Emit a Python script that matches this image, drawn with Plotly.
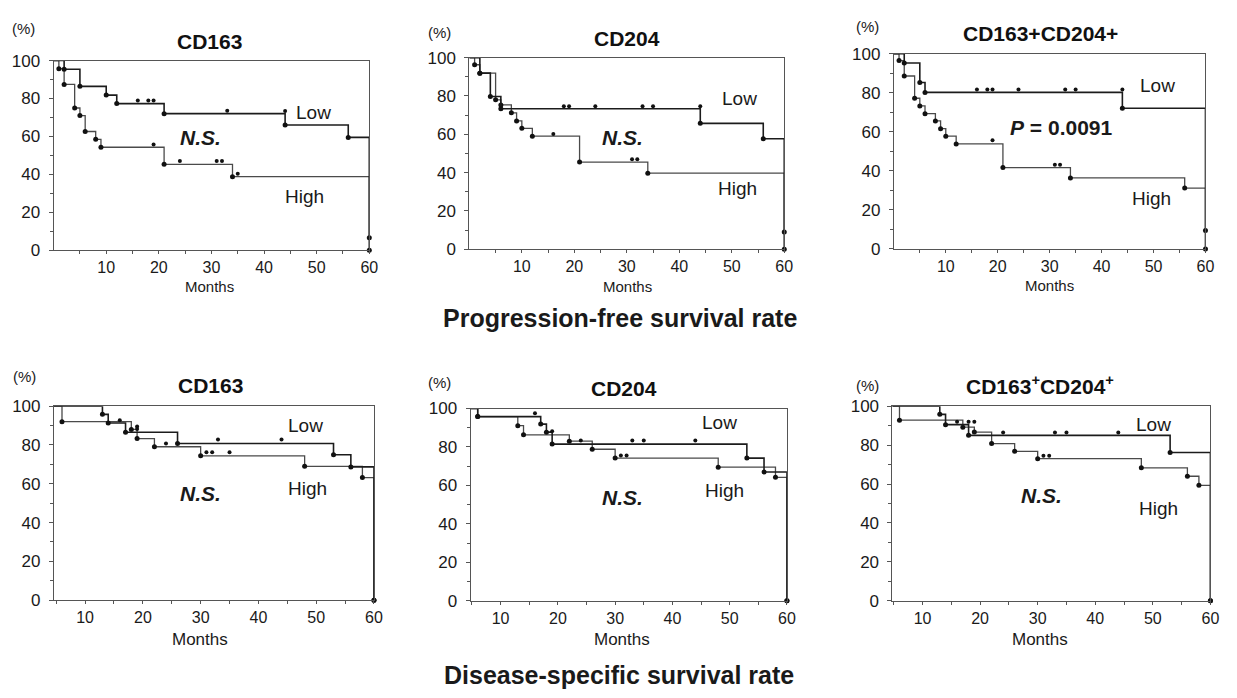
import plotly.graph_objects as go

W, H = 1237, 698
FONT = "Liberation Sans, Arial, sans-serif"

# ---------------- DATA ----------------
# Panel 1: PFS, CD163
p1_low_t = [2, 5, 10, 12, 21, 44, 56, 60]
p1_low_s = [95.4, 86.4, 81.8, 77.3, 72.0, 66.0, 59.5, 0]
p1_high_t = [1, 2, 4, 5, 6, 8, 9, 21, 34, 60]
p1_high_s = [95.7, 87.4, 75.0, 71.0, 62.6, 58.5, 54.3, 45.3, 38.8, 6.6]
p1_low_ct = [16, 18, 19, 33, 44]
p1_low_cs = [79.0, 79.0, 79.0, 73.5, 73.4]
p1_high_ct = [19, 24, 31, 32, 35]
p1_high_cs = [55.8, 47.0, 47.0, 47.0, 40.3]

# Panel 2: PFS, CD204
p2_low_t = [2, 4, 6, 44, 56, 60]
p2_low_s = [91.9, 79.7, 73.3, 65.7, 57.7, 0]
p2_high_t = [1, 2, 5, 6, 8, 9, 10, 12, 21, 34, 60]
p2_high_s = [96.3, 91.9, 78.0, 75.3, 71.2, 67.0, 63.1, 59.0, 45.5, 39.7, 9.0]
p2_low_ct = [18, 19, 24, 33, 35, 44]
p2_low_cs = [74.6, 74.6, 74.6, 74.6, 74.6, 74.6]
p2_high_ct = [16, 31, 32]
p2_high_cs = [60.2, 47.0, 47.0]

# Panel 3: PFS, CD163+CD204+
p3_low_t = [2, 5, 6, 44, 60]
p3_low_s = [95.3, 85.3, 80.2, 72.1, 0]
p3_high_t = [1, 2, 4, 5, 6, 8, 9, 10, 12, 21, 34, 56, 60]
p3_high_s = [96.5, 88.6, 77.2, 73.3, 69.3, 65.6, 61.6, 57.8, 53.8, 41.7, 36.4, 31.2, 9.5]
p3_low_ct = [16, 18, 19, 24, 33, 35, 44]
p3_low_cs = [81.7, 81.7, 81.7, 81.7, 81.7, 81.7, 81.7]
p3_high_ct = [19, 31, 32]
p3_high_cs = [55.7, 43.2, 43.2]

# Panel 4: DSS, CD163
p4_low_t = [13, 14, 17, 26, 53, 56, 60]
p4_low_s = [95.8, 91.3, 86.6, 80.8, 75.0, 68.7, 0]
p4_high_t = [6, 18, 19, 22, 30, 48, 58, 60]
p4_high_s = [92.0, 88.0, 83.3, 79.1, 74.4, 69.0, 63.2, 0]
p4_low_ct = [16, 19, 33, 44]
p4_low_cs = [92.7, 89.5, 82.8, 82.8]
p4_high_ct = [19, 24, 31, 32, 35]
p4_high_cs = [88.3, 80.8, 76.2, 76.2, 76.2]

# Panel 5: DSS, CD204
p5_low_t = [6, 17, 18, 19, 53, 56, 60]
p5_low_s = [95.8, 91.9, 87.7, 81.5, 74.2, 67.0, 0]
p5_high_t = [6, 13, 14, 22, 26, 30, 48, 58, 60]
p5_high_s = [95.8, 91.1, 86.3, 83.0, 78.8, 74.2, 69.5, 64.2, 0]
p5_low_ct = [16, 19, 24, 33, 35, 44]
p5_low_cs = [97.5, 88.2, 83.3, 83.3, 83.3, 83.3]
p5_high_ct = [31, 32]
p5_high_cs = [75.6, 75.6]

# Panel 6: DSS, CD163+CD204+
p6_low_t = [13, 14, 18, 53, 60]
p6_low_s = [95.8, 90.5, 85.0, 76.2, 0]
p6_high_t = [6, 17, 19, 22, 26, 30, 48, 56, 58, 60]
p6_high_s = [92.8, 89.2, 86.7, 80.8, 76.8, 73.0, 68.3, 64.0, 59.3, 0]
p6_low_ct = [16, 18, 19, 24, 33, 35, 44]
p6_low_cs = [92.0, 92.0, 92.0, 86.5, 86.5, 86.5, 86.5]
p6_high_ct = [31, 32]
p6_high_cs = [74.5, 74.5]

panel_titles = ["CD163", "CD204", "CD163+CD204+",
                "CD163", "CD204", "CD163<sup>+</sup>CD204<sup>+</sup>"]
stat_labels = ["<b><i>N.S.</i></b>", "<b><i>N.S.</i></b>", "<b><i>P</i> = 0.0091</b>",
               "<b><i>N.S.</i></b>", "<b><i>N.S.</i></b>", "<b><i>N.S.</i></b>"]
x_ticks = [10, 20, 30, 40, 50, 60]
y_ticks = [0, 20, 40, 60, 80, 100]
row_titles = ["Progression-free survival rate", "Disease-specific survival rate"]

panels = [
    (p1_low_t, p1_low_s, p1_high_t, p1_high_s, p1_low_ct, p1_low_cs, p1_high_ct, p1_high_cs),
    (p2_low_t, p2_low_s, p2_high_t, p2_high_s, p2_low_ct, p2_low_cs, p2_high_ct, p2_high_cs),
    (p3_low_t, p3_low_s, p3_high_t, p3_high_s, p3_low_ct, p3_low_cs, p3_high_ct, p3_high_cs),
    (p4_low_t, p4_low_s, p4_high_t, p4_high_s, p4_low_ct, p4_low_cs, p4_high_ct, p4_high_cs),
    (p5_low_t, p5_low_s, p5_high_t, p5_high_s, p5_low_ct, p5_low_cs, p5_high_ct, p5_high_cs),
    (p6_low_t, p6_low_s, p6_high_t, p6_high_s, p6_low_ct, p6_low_cs, p6_high_ct, p6_high_cs),
]

# ---------------- LAYOUT (pixel boxes of each plot area) ----------------
# (left, right, top, bottom) in pixels, x range start
boxes = [
    (54.0, 372.0, 53.0, 248.0, 0),
    (472.8, 790.0, 50.0, 247.0, 0),
    (900.4, 1214.3, 46.0, 246.7, 0),
    (54.3, 376.7, 408.3, 607.7, 4.6),
    (474.0, 792.7, 410.7, 608.3, 4.75),
    (899.0, 1219.3, 408.3, 608.3, 4.78),
]
# label positions in data coords: (Low), (High), (stat)
label_pos = [
    ((49.4, 72.8), (47.7, 28.4), (27.9, 59.6)),
    ((51.5, 78.8), (51.0, 31.5), (29.1, 58.5)),
    ((50.7, 83.9), (49.6, 26.1), (32.3, 62.3)),
    ((48.1, 90.0), (48.5, 57.7), (29.9, 54.9)),
    ((48.2, 92.8), (49.1, 57.3), (31.3, 53.9)),
    ((50.1, 90.8), (51.0, 47.2), (30.6, 54.2)),
]
title_px = [(210.7, 33), (631.7, 30), (1047.7, 25), (211.7, 387), (628.3, 390), (1047.7, 387)]
pct_px = [(24, 20), (443, 24), (874, 18), (25, 378), (443, 384), (874, 387)]
months_px = [(211, 285), (631.7, 285), (1057.3, 284.5), (201.7, 648.5), (626.7, 648.5), (1047.7, 648.5)]
row_px = [(625, 318), (624, 685)]


def px(x, y):
    return x / W, 1 - y / H


fig = go.Figure()
annotations = []
LOW_C = "#1c1c1c"
HIGH_C = "#4a4a4a"


def ann(x, y, text, size, xref="paper", yref="paper", color="#1a1a1a"):
    return dict(x=x, y=y, xref=xref, yref=yref, text=text, showarrow=False,
                xanchor="center", yanchor="middle",
                font=dict(family=FONT, size=size, color=color))


for i, (panel, box) in enumerate(zip(panels, boxes)):
    lt, ls, ht, hs, lct, lcs, hct, hcs = panel
    L, R, T, B, x0 = box
    xa = "x" if i == 0 else f"x{i+1}"
    ya = "y" if i == 0 else f"y{i+1}"
    for (tt, ss, col, wd) in ((ht, hs, HIGH_C, 1.3), (lt, ls, LOW_C, 1.6)):
        fig.add_trace(go.Scatter(x=[0] + list(tt), y=[100] + list(ss), mode="lines",
                                 line=dict(shape="hv", color=col, width=wd),
                                 xaxis=xa, yaxis=ya, showlegend=False, hoverinfo="skip"))
        fig.add_trace(go.Scatter(x=tt, y=ss, mode="markers",
                                 marker=dict(color="#111", size=5),
                                 xaxis=xa, yaxis=ya, showlegend=False, cliponaxis=False,
                                 hoverinfo="skip"))
    for (ct, cs) in ((lct, lcs), (hct, hcs)):
        fig.add_trace(go.Scatter(x=ct, y=cs, mode="markers",
                                 marker=dict(color="#111", size=4),
                                 xaxis=xa, yaxis=ya, showlegend=False, hoverinfo="skip"))

    xd = [L / W, R / W]
    yd = [1 - B / H, 1 - T / H]
    axis_common = dict(showline=True, linecolor="#555", linewidth=1, mirror=True,
                       showgrid=False, zeroline=False, ticks="outside",
                       tickcolor="#555")
    xkey = "xaxis" if i == 0 else f"xaxis{i+1}"
    ykey = "yaxis" if i == 0 else f"yaxis{i+1}"
    fig.layout[xkey] = dict(domain=xd, range=[x0, 60], anchor=ya, tickvals=x_ticks,
                            ticklen=3,
                            tickfont=dict(family=FONT, size=16, color="#1a1a1a"),
                            minor=dict(tickvals=[5, 15, 25, 35, 45, 55], ticks="outside",
                                       ticklen=3, tickcolor="#555"),
                            **axis_common)
    fig.layout[ykey] = dict(domain=yd, range=[0, 100], anchor=xa, tickvals=y_ticks,
                            ticklen=4, ticklabelstandoff=5,
                            tickfont=dict(family=FONT, size=17, color="#1a1a1a"),
                            minor=dict(tickvals=[10, 30, 50, 70, 90], ticks="outside",
                                       ticklen=3, tickcolor="#555"),
                            **axis_common)

    (lx, ly), (hx, hy), (sx, sy) = label_pos[i]
    annotations.append(ann(lx, ly, "Low", 19, xa, ya))
    annotations.append(ann(hx, hy, "High", 19, xa, ya))
    annotations.append(ann(sx, sy, stat_labels[i], 21, xa, ya))
    tx, ty = px(*title_px[i])
    annotations.append(ann(tx, ty, "<b>" + panel_titles[i] + "</b>", 21, color="#111"))
    cx, cy = px(*pct_px[i])
    annotations.append(ann(cx, cy, "(%)", 15))
    mx, my = px(*months_px[i])
    annotations.append(ann(mx, my, "Months", 15 if i < 3 else 17))

for txt, (rx, ry) in zip(row_titles, row_px):
    ax_, ay_ = px(rx, ry)
    annotations.append(ann(ax_, ay_, "<b>" + txt + "</b>", 25))

fig.update_layout(width=W, height=H, margin=dict(l=0, r=0, t=0, b=0),
                  paper_bgcolor="white", plot_bgcolor="white",
                  annotations=annotations, showlegend=False)

fig.write_html("out.html")
